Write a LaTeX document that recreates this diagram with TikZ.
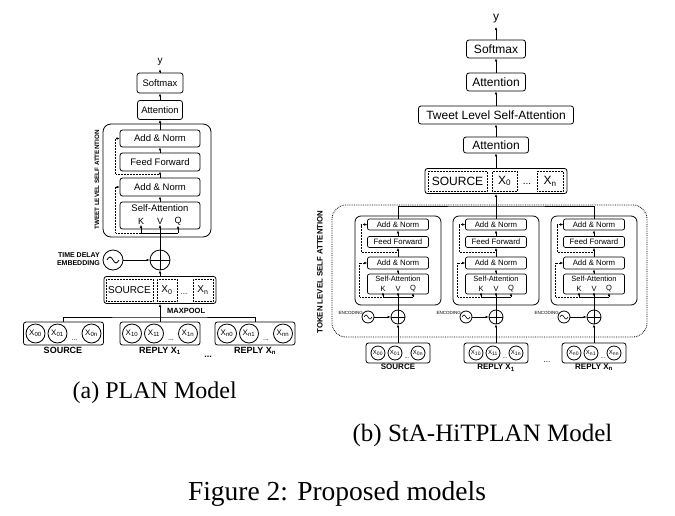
\documentclass[tikz,border=0pt]{standalone}
\usepackage{fontspec}
\setmainfont{Liberation Serif}
\newfontfamily\arialfont{Liberation Sans}
\usepackage{tikz}
\usetikzlibrary{arrows.meta}
\usetikzlibrary{calc}
\newcommand{\xsub}[1]{X\textsubscript{#1}}
\newcommand{\fsz}[1]{\arialfont\fontsize{#1}{#1}\selectfont}

\begin{document}
\begin{tikzpicture}[x=1pt,y=-1pt,
  >={Latex[length=3pt,width=2.6pt]},
  blk/.style={draw,rounded corners=2.5pt,line width=0.8pt,inner sep=0pt,font=\fsz{9.5}},
  sblk/.style={draw,rounded corners=2pt,line width=0.7pt,inner sep=0pt,font=\fsz{7.8}},
  tblk/.style={draw,rounded corners=2.5pt,line width=0.8pt,inner sep=0pt,font=\fsz{12}},
  dotbox/.style={draw,densely dotted,line width=0.5pt,inner sep=0pt},
  tok/.style={draw,circle,line width=0.8pt,inner sep=0pt},
  lbl/.style={inner sep=0pt,font=\fsz{9}\bfseries},
  res/.style={->,densely dotted,line width=0.5pt},
  conn/.style={->,line width=0.8pt}]
\useasboundingbox (0,0) rectangle (675,515);

% (a) PLAN
\node[font=\fsz{10}] (yL) at (160,62) {y};
\node[blk,minimum width=46,minimum height=20] (softL) at (160,83) {Softmax};
\node[blk,minimum width=45,minimum height=19] (attL) at (160,110) {Attention};
\node[draw,rounded corners=8pt,line width=0.8pt,minimum width=108,minimum height=113] (twL) at (157,180.5) {};
\node[blk,minimum width=80,minimum height=17] (anL1) at (160,138.5) {Add \& Norm};
\node[blk,minimum width=80,minimum height=18] (ffL) at (160,162) {Feed Forward};
\node[blk,minimum width=80,minimum height=18] (anL2) at (160,187) {Add \& Norm};
\node[blk,minimum width=80,minimum height=27] (saL) at (160,215.5) {};
\node[font=\fsz{9.5},inner sep=0pt] (saLt) at (160,208) {Self-Attention};
\node[font=\fsz{9},inner sep=0.5pt] (kL) at (141,221) {K};
\node[font=\fsz{9},inner sep=0.5pt] (vL) at (160,221) {V};
\node[font=\fsz{9},inner sep=0.5pt] (qL) at (178,221) {Q};
\node[rotate=90,font=\fsz{6.3}\bfseries] (twLt) at (97,180) {TWEET LEVEL SELF ATTENTION};
\coordinate (brL) at (160,233);
\draw[conn] (softL) -- (yL);
\draw[conn] (attL) -- (softL);
\draw[conn] (attL.south |- twL.north) -- (attL);
\draw[line width=0.8pt] (anL1) -- (anL1.north |- twL.north);
\draw[conn] (ffL) -- (anL1);
\draw[conn] (anL2) -- (ffL);
\draw[conn] (saL) -- (anL2);
\draw[res] ($(ffL.south)!.5!(anL2.north)$) -| ($(anL1.west)+(-4,0)$) -- (anL1.west);
\draw[res] (brL) -| ($(anL2.west)+(-4,0)$) -- (anL2.west);

\node[tok,minimum size=20] (plL) at (160,260) {};
\draw[line width=0.8pt] (plL.north) -- (plL.south) (plL.west) -- (plL.east);
\node[tok,minimum size=20] (tdL) at (113,260) {};
\draw[line width=0.8pt] (tdL) ++(-6,0) sin ++(3,-3) cos ++(3,3) sin ++(3,3) cos ++(3,-3);
\node[anchor=east,align=right,font=\fsz{7}\bfseries,inner sep=0pt] (tdLt) at (100,259) {TIME DELAY\\[1pt]EMBEDDING};
\draw[conn] (tdL) -- (plL);
\draw[conn] (plL) -- (vL);
\draw[line width=0.8pt] (plL) -- (brL);
\draw[conn] (brL -| kL) -- (kL);
\draw[line width=0.8pt] (brL -| kL) -- (brL -| qL);
\draw[conn] (brL -| qL) -- (qL);

\node[blk,minimum width=112,minimum height=27] (srcL) at (160,290) {};
\node[dotbox,minimum width=47,minimum height=22,font=\fsz{10}] (srcLs) at (129.5,290) {SOURCE};
\node[dotbox,minimum width=20,minimum height=22,font=\fsz{10}] (srcL0) at (167,290) {\xsub{0}};
\node[font=\fsz{8},inner sep=0pt] (srcLd) at (184,294) {...};
\node[dotbox,minimum width=20,minimum height=22,font=\fsz{10}] (srcLn) at (203,290) {\xsub{n}};
\draw[conn] (srcL) -- (plL);
\node[anchor=west,font=\fsz{7.5}\bfseries,inner sep=0pt] (mpL) at (167,311) {MAXPOOL};

\foreach \i/\cx/\a/\b/\c in {0/63.5/00/01/0n,1/160/10/11/1n,2/255/n0/n1/nn}{
  \node[blk,minimum width=80,minimum height=23] (gL\i) at (\cx,333.5) {};
  \node[tok,minimum size=19,font=\fsz{8}] (gL\i a) at (\cx-28,333.5) {\xsub{\a}};
  \node[tok,minimum size=19,font=\fsz{8}] (gL\i b) at (\cx-6,333.5) {\xsub{\b}};
  \node[tok,minimum size=19,font=\fsz{8}] (gL\i c) at (\cx+28,333.5) {\xsub{\c}};
  \node[font=\fsz{7},inner sep=0pt] (gL\i d) at (\cx+11,340) {...};
}
\coordinate (busL) at (160,317);
\draw[line width=0.8pt] (gL0.north) |- (busL) -| (gL2.north);
\draw[conn] (gL1) -- (srcL);
\node[lbl,anchor=north] (gL0t) at (63,347) {SOURCE};
\node[lbl,anchor=north] (gL1t) at (160,347) {REPLY \xsub{1}};
\node[lbl] (gLdots) at (208,357) {...};
\node[lbl,anchor=north] (gL2t) at (255,347) {REPLY \xsub{n}};

% (b) StA-HiTPLAN
\node[font=\fsz{12}] (yR) at (496,19) {y};
\node[tblk,minimum width=59,minimum height=18] (softR) at (496,49) {Softmax};
\node[tblk,minimum width=59,minimum height=18] (attR) at (496,82) {Attention};
\node[tblk,minimum width=155,minimum height=18] (tlsa) at (496,115) {Tweet Level Self-Attention};
\node[tblk,minimum width=65,minimum height=16] (att2R) at (496,145) {Attention};
\node[tblk,minimum width=142,minimum height=25] (srcR) at (496,181) {};
\node[dotbox,minimum width=59,minimum height=20,font=\fsz{12}] (srcRs) at (457.5,181) {SOURCE};
\node[dotbox,minimum width=25,minimum height=20,font=\fsz{12}] (srcR0) at (504.5,181) {\xsub{0}};
\node[font=\fsz{10},inner sep=0pt] (srcRd) at (527,184) {...};
\node[dotbox,minimum width=26,minimum height=20,font=\fsz{12}] (srcRn) at (550,181) {\xsub{n}};
\draw[conn] (softR) -- (yR);
\draw[conn] (attR) -- (softR);
\draw[conn] (tlsa) -- (attR);
\draw[conn] (att2R) -- (tlsa);
\draw[conn] (srcR) -- (att2R);

\draw[densely dotted,line width=0.8pt,rounded corners=14pt] (332,205) rectangle (647,337);
\node[rotate=90,font=\fsz{7.8}\bfseries] (tkRt) at (320,272) {TOKEN LEVEL SELF ATTENTION};

\foreach \i/\cx/\nm/\a/\b/\c in {1/398/SOURCE/00/01/0n,2/496/{REPLY \xsub{1}}/10/11/1n,3/594/{REPLY \xsub{n}}/n0/n1/nn}{
  \node[draw,rounded corners=6pt,line width=0.8pt,minimum width=86,minimum height=89] (blk\i) at (\cx,260.5) {};
  \node[sblk,minimum width=61,minimum height=11] (anA\i) at (\cx,224.5) {Add \& Norm};
  \node[sblk,minimum width=61,minimum height=11] (ff\i) at (\cx,242) {Feed Forward};
  \node[sblk,minimum width=61,minimum height=12] (anB\i) at (\cx,263) {Add \& Norm};
  \node[sblk,minimum width=61,minimum height=20] (sa\i) at (\cx,284) {};
  \node[font=\fsz{7.5},inner sep=0pt] (sat\i) at (\cx,279) {Self-Attention};
  \node[font=\fsz{7.5},inner sep=0.5pt] (k\i) at (\cx-15,289) {K};
  \node[font=\fsz{7.5},inner sep=0.5pt] (v\i) at (\cx,289) {V};
  \node[font=\fsz{7.5},inner sep=0.5pt] (q\i) at (\cx+15,289) {Q};
  \coordinate (br\i) at (\cx,297);
  \draw[conn] (sa\i) -- (anB\i);
  \draw[conn] (anB\i) -- (ff\i);
  \draw[conn] (ff\i) -- (anA\i);
  \draw[line width=0.8pt] (anA\i) -- (blk\i.north);
  \draw[res] ($(ff\i.south)!.5!(anB\i.north)$) -| ($(anA\i.west)+(-6,0)$) -- (anA\i.west);
  \draw[res] (br\i) -| ($(anB\i.west)+(-8,0)$) -- (anB\i.west);
  \node[tok,minimum size=14] (pl\i) at (\cx,317) {};
  \draw[line width=0.8pt] (pl\i.north) -- (pl\i.south) (pl\i.west) -- (pl\i.east);
  \node[tok,minimum size=12] (en\i) at (\cx-30,317) {};
  \draw[line width=0.6pt] (en\i) ++(-4,0) sin ++(2,-2) cos ++(2,2) sin ++(2,2) cos ++(2,-2);
  \node[anchor=east,font=\fsz{4.5},inner sep=0pt] (ent\i) at (\cx-35,313) {ENCODING};
  \draw[conn] (en\i) -- (pl\i);
  \draw[conn] (pl\i) -- (v\i);
  \draw[line width=0.8pt] (pl\i) -- (br\i);
  \draw[conn] (br\i -| k\i) -- (k\i);
  \draw[line width=0.8pt] (br\i -| k\i) -- (br\i -| q\i);
  \draw[conn] (br\i -| q\i) -- (q\i);
  \node[blk,minimum width=64,minimum height=20] (g\i) at (\cx,353) {};
  \node[tok,minimum size=14,font=\fsz{6}] (g\i a) at (\cx-20,353) {\xsub{\a}};
  \node[tok,minimum size=14,font=\fsz{6}] (g\i b) at (\cx-3,353) {\xsub{\b}};
  \node[tok,minimum size=14,font=\fsz{6}] (g\i c) at (\cx+20,353) {\xsub{\c}};
  \node[font=\fsz{6},inner sep=0pt] (g\i d) at (\cx+9,358) {...};
  \draw[conn] (g\i) -- (pl\i);
  \node[lbl,anchor=north,font=\fsz{8}\bfseries] (g\i t) at (\cx,364) {\nm};
}
\coordinate (busR) at (496,206);
\draw[line width=0.8pt] (blk1.north) |- (busR) -| (blk3.north);
\draw[conn] (blk2.north) -- (srcR);
\node[font=\fsz{8},inner sep=0pt] (gRdots) at (547,362) {...};

% captions
\node[font=\fontsize{24}{26}\selectfont,anchor=base] (capA) at (154.7,398) {(a) PLAN Model};
\node[font=\fontsize{25}{27}\selectfont,anchor=base] (capB) at (482.5,441.5) {(b) StA-HiTPLAN Model};
\node[font=\fontsize{27.5}{30}\selectfont,anchor=base] (capF) at (337,500) {Figure 2: Proposed models};
\end{tikzpicture}
\end{document}
